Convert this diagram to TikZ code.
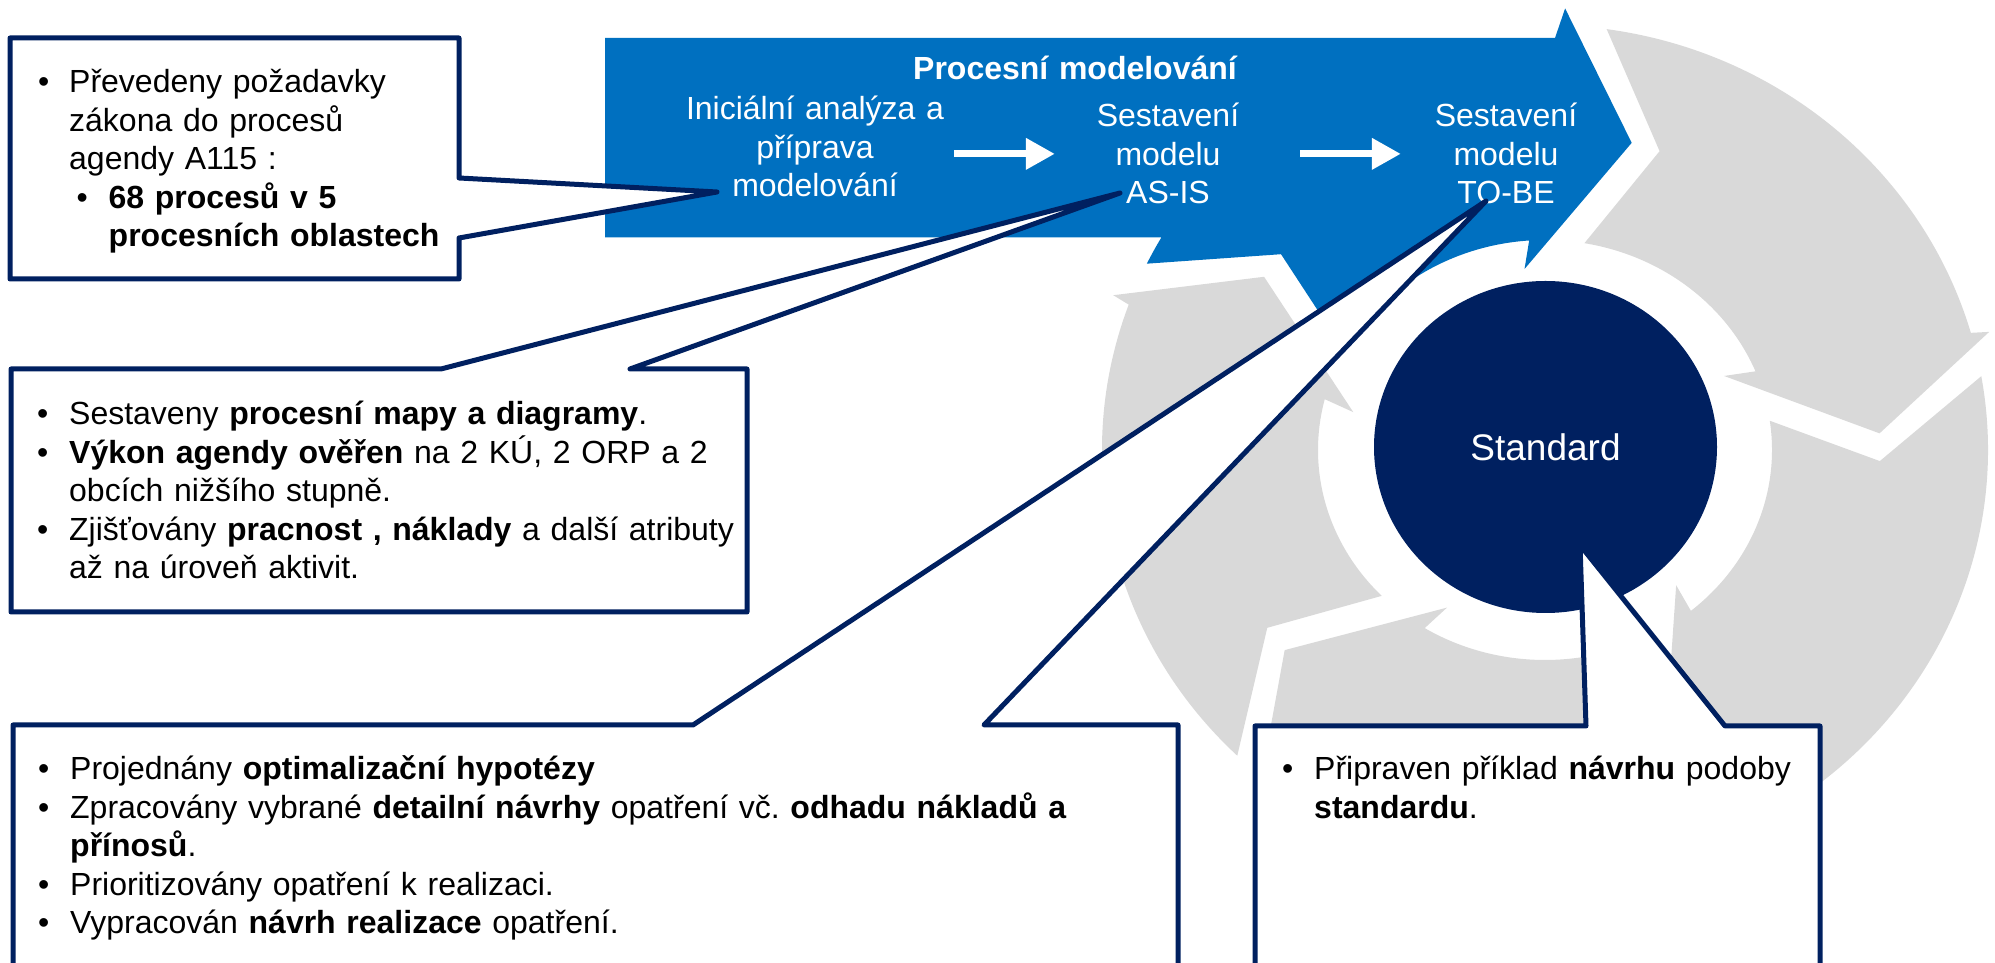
\documentclass[tikz,border=0pt]{standalone}
\usepackage{fontspec}
\setmainfont{Liberation Sans}
\usetikzlibrary{arrows.meta,shapes.geometric}
\frenchspacing

\definecolor{navy}{HTML}{002060}
\definecolor{azure}{HTML}{0070C0}
\definecolor{ringgray}{HTML}{D9D9D9}

\newcommand{\bul}[1][32pt]{\makebox[#1][l]{\textbullet}}
\newcommand{\indt}[1][32pt]{\hspace*{#1}}

\tikzset{
  box/.style={draw=navy, line width=5pt, fill=white, line join=round},
  body/.style={font=\fontsize{32}{38.5}\selectfont, inner sep=0pt, anchor=base west, align=left, text width=#1},
  wtext/.style={font=\fontsize{32}{38.5}\selectfont, text=white, inner sep=0pt, anchor=base, align=center, text width=#1},
  flow/.style={draw=white, line width=7pt, -{Triangle[length=29pt,width=30pt]}},
  segment/.style={fill=ringgray},
  hub/.style={ellipse, fill=navy, text=white, inner sep=0pt, minimum width=343pt, minimum height=332pt, font=\fontsize{37}{44}\selectfont},
}

\begin{document}
\begin{tikzpicture}[x=1pt, y=1pt]
\path[use as bounding box, clip] (0,0) rectangle (1995,963);

% cycle of arrows
\begin{scope}[shift={(1545,513)}]
\foreach \ang in {82,10,-62,-134}
  \fill[segment] (\ang:443 and 425)
    arc[start angle=\ang, end angle=\ang-66, x radius=443, y radius=425]
    -- (\ang-66.5:461 and 442) -- (\ang-79:335 and 318)
    -- (\ang-58:196 and 182) -- (\ang-60:227 and 210)
    arc[start angle=\ang-60, end angle=\ang-2, x radius=227, y radius=210]
    -- (\ang-12:335 and 318) -- cycle;
\fill[azure] (-940,412) -- (10,412) -- (87.5:461 and 442) -- (75:335 and 318)
  -- (96:196 and 182) -- (94:227 and 210)
  arc[start angle=94, end angle=152, x radius=227, y radius=210]
  -- (142:335 and 318) -- (154:443 and 425)
  arc[start angle=154, end angle=150, x radius=443, y radius=425]
  -- (-940,212.5) -- cycle;
\end{scope}

\node[hub] (std) at (1545.5,516) {Standard};

% modelling steps
\node[wtext=400pt] (title) at (1075,883) {\bfseries Procesní modelování};
\node[wtext=270pt] (init) at (815,843) {Iniciální analýza a\\příprava\\modelování};
\node[wtext=160pt] (asis) at (1168,836) {Sestavení\\modelu\\AS-IS};
\node[wtext=160pt] (tobe) at (1506,836) {Sestavení\\modelu\\TO-BE};
\draw[flow, shorten <=4pt, shorten >=33pt] (init.east |- asis.west) -- (asis.west);
\draw[flow, shorten <=52pt, shorten >=25pt] (asis.east) -- (asis.east -| tobe.west);

% callouts
\coordinate (tip1) at (717,771);
\coordinate (tip2) at (1120,770);
\coordinate (tip3) at (1486,762);
\coordinate (tip4) at (1580,418);
\draw[box] (10,925) -- (459,925) -- (459,785) -- (tip1) -- (459,725) -- (459,684) -- (10,684) -- cycle;
\draw[box] (11,594) -- (441,594) -- (tip2) -- (630,594) -- (747,594) -- (747,351) -- (11,351) -- cycle;
\draw[box] (13,238) -- (693,238) -- (tip3) -- (984,238) -- (1178,238) -- (1178,-30) -- (13,-30) -- cycle;
\draw[box] (1255,237) -- (1586,237) -- (tip4) -- (1725,237) -- (1820,237) -- (1820,-30) -- (1255,-30) -- cycle;

\node[body=420pt] (req) at (38,870) {\bul[31pt]Převedeny požadavky\\
  \indt[31pt]zákona do procesů\\
  \indt[31pt]agendy A115 :\\
  \indt[38.5pt]\bul\textbf{68 procesů v 5}\\
  \indt[70.5pt]\textbf{procesních oblastech}};
\node[body=720pt] (asisinfo) at (37,538) {\bul Sestaveny \textbf{procesní mapy a diagramy}.\\
  \bul\textbf{Výkon agendy ověřen} na 2 KÚ, 2 ORP a 2\\
  \indt obcích nižšího stupně.\\
  \bul Zjišťovány \textbf{pracnost , náklady} a další atributy\\
  \indt až na úroveň aktivit.};
\node[body=1130pt] (tobeinfo) at (38,183) {\bul Projednány \textbf{optimalizační hypotézy}\\
  \bul Zpracovány vybrané \textbf{detailní návrhy} opatření vč. \textbf{odhadu nákladů a}\\
  \indt\textbf{přínosů}.\\
  \bul Prioritizovány opatření k realizaci.\\
  \bul Vypracován \textbf{návrh realizace} opatření.};
\node[body=530pt] (stdinfo) at (1282,183) {\bul Připraven příklad \textbf{návrhu} podoby\\
  \indt\textbf{standardu}.};

\end{tikzpicture}
\end{document}
